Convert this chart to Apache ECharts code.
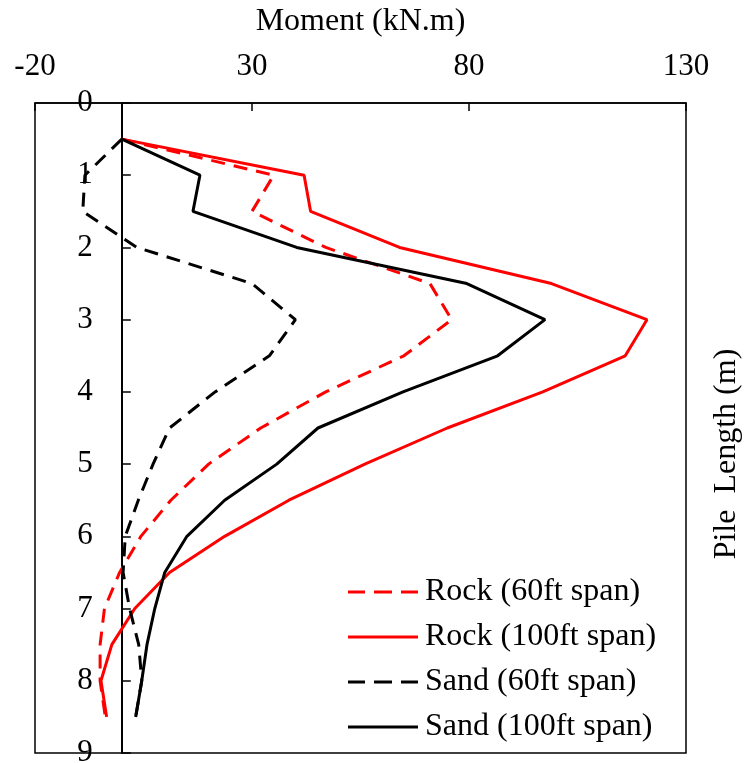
<!DOCTYPE html>
<html>
<head>
<meta charset="utf-8">
<script src="https://cdn.jsdelivr.net/npm/echarts@6/dist/echarts.min.js"></script>
<style>
  html, body { margin: 0; padding: 0; background: #fff; }
  #chart { width: 745px; height: 763px; }
</style>
</head>
<body>
<div id="chart"></div>
<script>
// depth along the pile (m) and bending moment (kN.m) for each case
var depth = [0.5, 1, 1.5, 2, 2.5, 3, 3.5, 4, 4.5, 5, 5.5, 6, 6.5, 7, 7.5, 8, 8.5];
var rock60 = [0, 35, 30, 47, 71, 76, 65, 47, 32, 20, 11.3, 4.4, -0.5, -4, -5, -5, -3.8];
var rock100 = [0, 42, 43.5, 64, 99, 121, 116, 97, 75, 56, 38.5, 23.7, 11, 3, -2.3, -4.8, -3.5];
var sand60 = [0, -8.5, -9, 3.5, 30, 40, 34, 21.5, 11, 7.2, 3.8, 0.8, 0.3, 1.8, 3.9, 4.6, 3.2];
var sand100 = [0, 18, 16.4, 40.3, 79.5, 97.5, 86.6, 64.8, 45.2, 35.7, 23.7, 15, 9.9, 7.6, 5.8, 4.6, 3.2];
var names = ['Rock (60ft span)', 'Rock (100ft span)', 'Sand (60ft span)', 'Sand (100ft span)'];
var xMin = -20, xMax = 130;

var font = 'Liberation Serif';
var W = 745, H = 763;
var gridLeft = 35, gridRight = 59;
// the depth axis sits on the zero-moment line
var zeroOffset = (0 - xMin) / (xMax - xMin) * (W - gridLeft - gridRight);

// legend icons: a solid bar and a three-dash bar
var solidIcon = 'path://M0,0h70v3h-70z';
var dashIcon = 'path://M0,0h17v3h-17z M26,0h18v3h-18z M53,0h17v3h-17z';

function pairs(vals) {
  return vals.map(function (v, i) { return [v, depth[i]]; });
}

function line(name, vals, color, dashed) {
  return {
    name: name,
    type: 'line',
    data: pairs(vals),
    symbol: 'none',
    lineStyle: { color: color, width: 3, type: dashed ? [14, 9] : 'solid' },
    itemStyle: { color: color }
  };
}

var myChart = echarts.init(document.getElementById('chart'));

var option = {
  animation: false,
  grid: {
    left: gridLeft, right: gridRight, top: 103, bottom: 10,
    containLabel: false, outerBoundsMode: 'none',
    show: true, borderColor: '#000', borderWidth: 1.5
  },
  legend: {
    orient: 'vertical',
    left: 348, top: 576,
    padding: 0,
    itemWidth: 70, itemHeight: 4, itemGap: 13,
    data: [
      { name: names[0], icon: dashIcon, itemStyle: { color: '#ff0000' } },
      { name: names[1], icon: solidIcon, itemStyle: { color: '#ff0000' } },
      { name: names[2], icon: dashIcon, itemStyle: { color: '#000' } },
      { name: names[3], icon: solidIcon, itemStyle: { color: '#000' } }
    ],
    textStyle: { fontFamily: font, fontSize: 32, lineHeight: 32, color: '#000', padding: [0, 0, 0, 2] }
  },
  xAxis: {
    type: 'value',
    position: 'top',
    min: xMin, max: xMax, interval: 50,
    name: 'Moment (kN.m)',
    nameLocation: 'middle',
    nameGap: 65,
    nameTextStyle: { fontFamily: font, fontSize: 32, color: '#000' },
    axisLine: { onZero: false, lineStyle: { color: '#000', width: 1.5 } },
    axisTick: { inside: true, length: 8, lineStyle: { color: '#000', width: 1.5 } },
    axisLabel: { fontFamily: font, fontSize: 31, color: '#000', margin: 21 },
    splitLine: { show: false }
  },
  yAxis: {
    type: 'value',
    inverse: true,
    min: 0, max: 9, interval: 1,
    offset: -zeroOffset,
    axisLine: { onZero: false, lineStyle: { color: '#000', width: 2 } },
    axisTick: { inside: true, length: 9, lineStyle: { color: '#000', width: 1.5 } },
    axisLabel: { fontFamily: font, fontSize: 31, color: '#000', margin: 29 },
    splitLine: { show: false }
  },
  graphic: [{
    type: 'text',
    x: 727, y: 454,
    rotation: Math.PI / 2,
    style: {
      text: 'Pile  Length (m)',
      fontFamily: font, fontSize: 32, fill: '#000',
      textAlign: 'center', textVerticalAlign: 'middle'
    }
  }],
  series: [
    line(names[1], rock100, '#ff0000', false),
    line(names[0], rock60, '#ff0000', true),
    line(names[3], sand100, '#000', false),
    line(names[2], sand60, '#000', true)
  ]
};

myChart.setOption(option);
</script>
</body>
</html>
